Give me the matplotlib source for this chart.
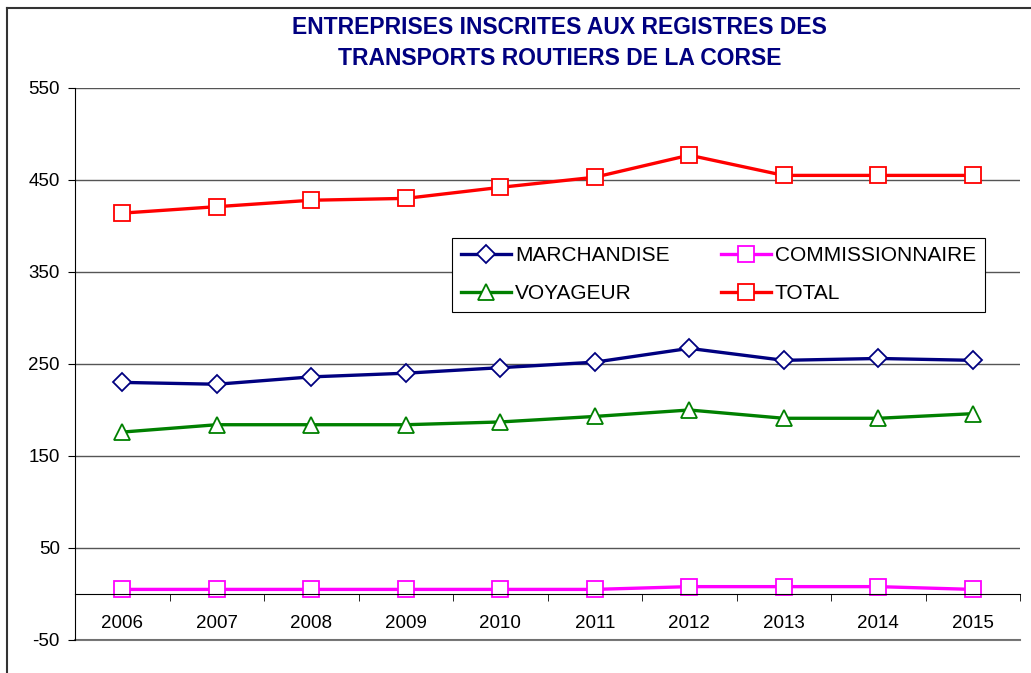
import matplotlib.pyplot as plt
from matplotlib.lines import Line2D
import numpy as np

annees = ["2006", "2007", "2008", "2009", "2010", "2011", "2012", "2013", "2014", "2015"]
marchandise = [230, 228, 236, 240, 246, 252, 267, 254, 256, 254]
commissionnaire = [5, 5, 5, 5, 5, 5, 8, 8, 8, 5]
voyageur = [176, 184, 184, 184, 187, 193, 200, 191, 191, 196]
total = [414, 421, 428, 430, 442, 453, 477, 455, 455, 455]

plt.rcParams['font.family'] = ['Liberation Sans', 'DejaVu Sans']
plt.rcParams['axes.unicode_minus'] = False

fig = plt.figure(figsize=(10.31, 6.73), dpi=100)
ax = fig.add_axes([75/1031, 33/673, 945/1031, 552/673])

x = np.arange(len(annees))
style = dict(lw=2.4, markersize=11, markerfacecolor='white', markeredgewidth=1.3)
ax.plot(x, marchandise, color='#000080', marker='D', label='MARCHANDISE',
        **dict(style, markersize=9.5))
ax.plot(x, voyageur, color='#008000', marker='^', label='VOYAGEUR', **style)
ax.plot(x, commissionnaire, color='#FF00FF', marker='s', label='COMMISSIONNAIRE', **style)
ax.plot(x, total, color='#FF0000', marker='s', label='TOTAL', **style)

ax.set_xlim(-0.5, len(annees) - 0.5)
ax.set_ylim(-50, 550)
ax.set_yticks(np.arange(-50, 551, 100))
ax.yaxis.grid(True, color='#555555', lw=1)
ax.set_axisbelow(True)
# ligne du bas (-50) bien visible
ax.axhline(-50, color='#777777', lw=1.5, clip_on=False, zorder=0)

ax.set_xticks(x)
ax.set_xticklabels(annees)
ax.set_xticks(np.arange(-0.5, len(annees), 1), minor=True)
ax.tick_params(axis='x', which='major', length=0, pad=15, labelsize=13.5)
ax.tick_params(axis='x', which='minor', length=5, direction='out', color='black')
ax.tick_params(axis='y', length=5, color='black', labelsize=13.5, pad=6)

ax.spines['bottom'].set_position(('data', 0))
ax.spines['top'].set_visible(False)
ax.spines['right'].set_visible(False)
ax.spines['left'].set_color('black')
ax.spines['bottom'].set_color('black')

leg = ax.legend(ncol=2, loc='upper left', bbox_to_anchor=(0.388, 0.748),
                fontsize=15, frameon=True, fancybox=False, framealpha=1,
                edgecolor='black', handlelength=2.4, columnspacing=2.45,
                labelspacing=0.9, handletextpad=0.2, borderpad=0.42)
leg.get_frame().set_linewidth(0.8)

fig.text(0.543, 0.936, "ENTREPRISES INSCRITES AUX REGISTRES DES\nTRANSPORTS ROUTIERS DE LA CORSE",
         ha='center', va='center', fontsize=16.5, fontweight='bold', color='#000080',
         linespacing=1.42)

# cadre du graphique
fig.add_artist(Line2D([7/1031, 7/1031], [0, 1 - 8/673], color='#333333', lw=1.5))
fig.add_artist(Line2D([7/1031, 1], [1 - 8/673, 1 - 8/673], color='#333333', lw=1.5))

fig.savefig('out.png', dpi=100)
